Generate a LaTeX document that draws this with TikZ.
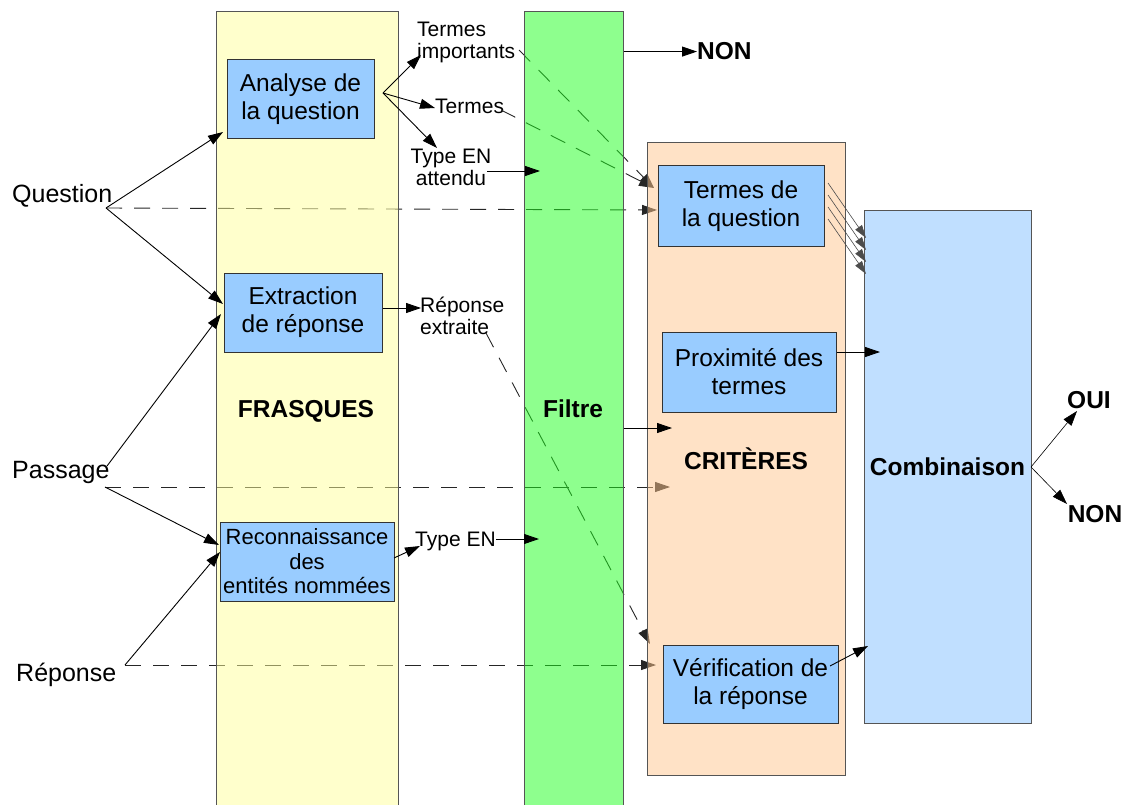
\documentclass[tikz,border=0pt]{standalone}
\usepackage{fontspec}
\setmainfont{Liberation Sans}
\usetikzlibrary{arrows.meta}
\definecolor{yel}{HTML}{FFFF99}
\definecolor{grn}{HTML}{1DFF1D}
\definecolor{pch}{HTML}{FFC58D}
\definecolor{cmb}{HTML}{C0DFFF}
\definecolor{bxb}{HTML}{99CCFF}
\definecolor{edge}{HTML}{555555}
\begin{document}
\begin{tikzpicture}[x=1pt,y=-1pt,
  arr/.style={line width=0.9pt, -{Triangle[length=15pt,width=10pt]}},
  thinarr/.style={line width=0.6pt, draw=black!70, -{Triangle[length=13pt,width=8pt]}},
  dsh/.style={arr, draw=black!85, dash pattern=on 16pt off 12pt},
  colbox/.style={draw=edge, line width=1pt, fill opacity=0.5, text opacity=1, inner sep=0pt},
  box/.style={draw=black!80, fill=bxb, line width=1pt, inner sep=0pt, align=center, font=\fontsize{24.5}{28}\selectfont},
  lab/.style={inner sep=0pt, font=\fontsize{25}{28}\selectfont},
  small/.style={inner sep=0pt, font=\fontsize{21}{22}\selectfont},
  bold/.style={inner sep=0pt, font=\fontsize{24.5}{28}\selectfont\bfseries}]
\useasboundingbox (0,0) rectangle (1126,805);
\clip (0,0) rectangle (1126,805);

% ---- free labels
\node[lab, anchor=base west] (question) at (12,202) {Question};
\node[lab, anchor=base west] (passage) at (12,478) {Passage};
\node[lab, anchor=base west] (reponse) at (16,681) {Réponse};
\node[small, align=left, anchor=west] (timp) at (417,42) {Termes\\importants};
\node[small, anchor=base west] (termes) at (435,114) {Termes};
\node[small, align=center] (typeatt) at (451,167) {Type EN\\attendu};
\node[small, align=left, anchor=west] (repext) at (420,316) {Réponse\\extraite};
\node[small, anchor=base west] (typeen) at (415,546) {Type EN};
\node[bold, anchor=base west] (non1) at (697,60) {NON};
\node[bold, anchor=base] (oui) at (1089,408) {OUI};
\node[bold, anchor=base] (non2) at (1095,522) {NON};

% ---- connector end points
\coordinate (qout) at (106,208);
\coordinate (pout) at (105,487);
\coordinate (pup) at (107,466);
\coordinate (rout) at (125,665);
\coordinate (timpout) at (519,50);
\coordinate (termesout) at (501,110);
\coordinate (repout) at (486,333);
\coordinate (tq1) at (657,210);
\coordinate (tq2) at (654,188);
\coordinate (tpass) at (670,487);
\coordinate (tver) at (656,665);
\coordinate (trep) at (650,644);

% ---- dashed connectors (beneath the columns)
\draw[dsh] (qout) -- (tq1);
\draw[dsh] (pout) -- (tpass);
\draw[dsh] (rout) -- (tver);
\draw[dsh] (timpout) -- (tq2);
\draw[dsh] (termesout) -- (tq2);
\draw[dsh] (repout) -- (trep);

% ---- columns
\node[colbox, fill=yel, minimum width=182pt, minimum height=798pt] (frasques) at (307,411) {};
\node[colbox, fill=grn, minimum width=99pt, minimum height=798pt] (filtre) at (573.5,411) {};
\node[colbox, fill=pch, minimum width=198pt, minimum height=632pt, font=\fontsize{24.5}{28}\selectfont\bfseries] (criteres) at (746,459) {CRITÈRES};
\node[draw=edge, line width=1pt, fill=cmb, inner sep=0pt, minimum width=167pt, minimum height=513pt, font=\fontsize{24.5}{28}\selectfont\bfseries] (combi) at (947.5,466.5) {Combinaison};
\node[bold, anchor=base] (frasqt) at (306,417) {FRASQUES};
\node[bold, anchor=base] (filtret) at (573,417) {Filtre};

% ---- boxes
\node[box, minimum width=147pt, minimum height=79pt] (analyse) at (300.5,99.5) {Analyse de\\la question};
\node[box, minimum width=158pt, minimum height=79pt] (extraction) at (303,312.5) {Extraction\\de réponse};
\node[box, minimum width=174pt, minimum height=79pt, font=\fontsize{22}{24.5}\selectfont] (reconn) at (307,561.5) {Reconnaissance\\des\\entités nommées};
\node[box, minimum width=166pt, minimum height=80pt] (tdq) at (741,206) {Termes de\\la question};
\node[box, minimum width=174pt, minimum height=80pt] (proxi) at (749,372) {Proximité des\\termes};
\node[box, minimum width=175pt, minimum height=78pt] (verif) at (750.5,684) {Vérification de\\la réponse};

% ---- solid connector end points
\coordinate (tan) at (223,132);
\coordinate (tex1) at (223,304);
\coordinate (tex2) at (221,314);
\coordinate (trc1) at (219,545);
\coordinate (trc2) at (220,552);
\coordinate (anout) at (383,93);
\coordinate (ttimp) at (421,55);
\coordinate (ttermes) at (435,108);
\coordinate (ttype) at (437,148);
\coordinate (typeattout) at (487,171);
\coordinate (tfil1) at (540,171);
\coordinate (trepext) at (421,308);
\coordinate (rcout) at (394,558);
\coordinate (ttypeen) at (420,546);
\coordinate (typeenout) at (496,539);
\coordinate (tfil2) at (539,539);
\coordinate (tcrit) at (672,428);
\coordinate (tprox) at (880,352);
\coordinate (verout) at (830,666);
\coordinate (tcmb) at (868,646);
\coordinate (cmbout) at (1031,467);
\coordinate (toui) at (1077,411);
\coordinate (tnon) at (1067,504);

% ---- solid connectors
\draw[arr] (qout) -- (tan);
\draw[arr] (qout) -- (tex1);
\draw[arr] (pup) -- (tex2);
\draw[arr] (pout) -- (trc1);
\draw[arr] (rout) -- (trc2);
\draw[arr] (anout) -- (ttimp);
\draw[arr] (anout) -- (ttermes);
\draw[arr] (anout) -- (ttype);
\draw[arr] (typeattout) -- (tfil1);
\draw[arr] (filtre.east |- non1.west) -- (non1.west);
\draw[arr] (extraction.east |- trepext) -- (trepext);
\draw[arr] (rcout) -- (ttypeen);
\draw[arr] (typeenout) -- (tfil2);
\draw[arr] (filtre.east |- tcrit) -- (tcrit);
\foreach \i in {0,1,2,3} {
  \draw[thinarr] (828,183+12*\i) -- (866,238+12*\i);
}
\draw[arr] (proxi.east |- tprox) -- (tprox);
\draw[arr] (verout) -- (tcmb);
\draw[arr, line width=0.6pt] (cmbout) -- (toui);
\draw[arr, line width=0.6pt] (cmbout) -- (tnon);
\end{tikzpicture}
\end{document}
